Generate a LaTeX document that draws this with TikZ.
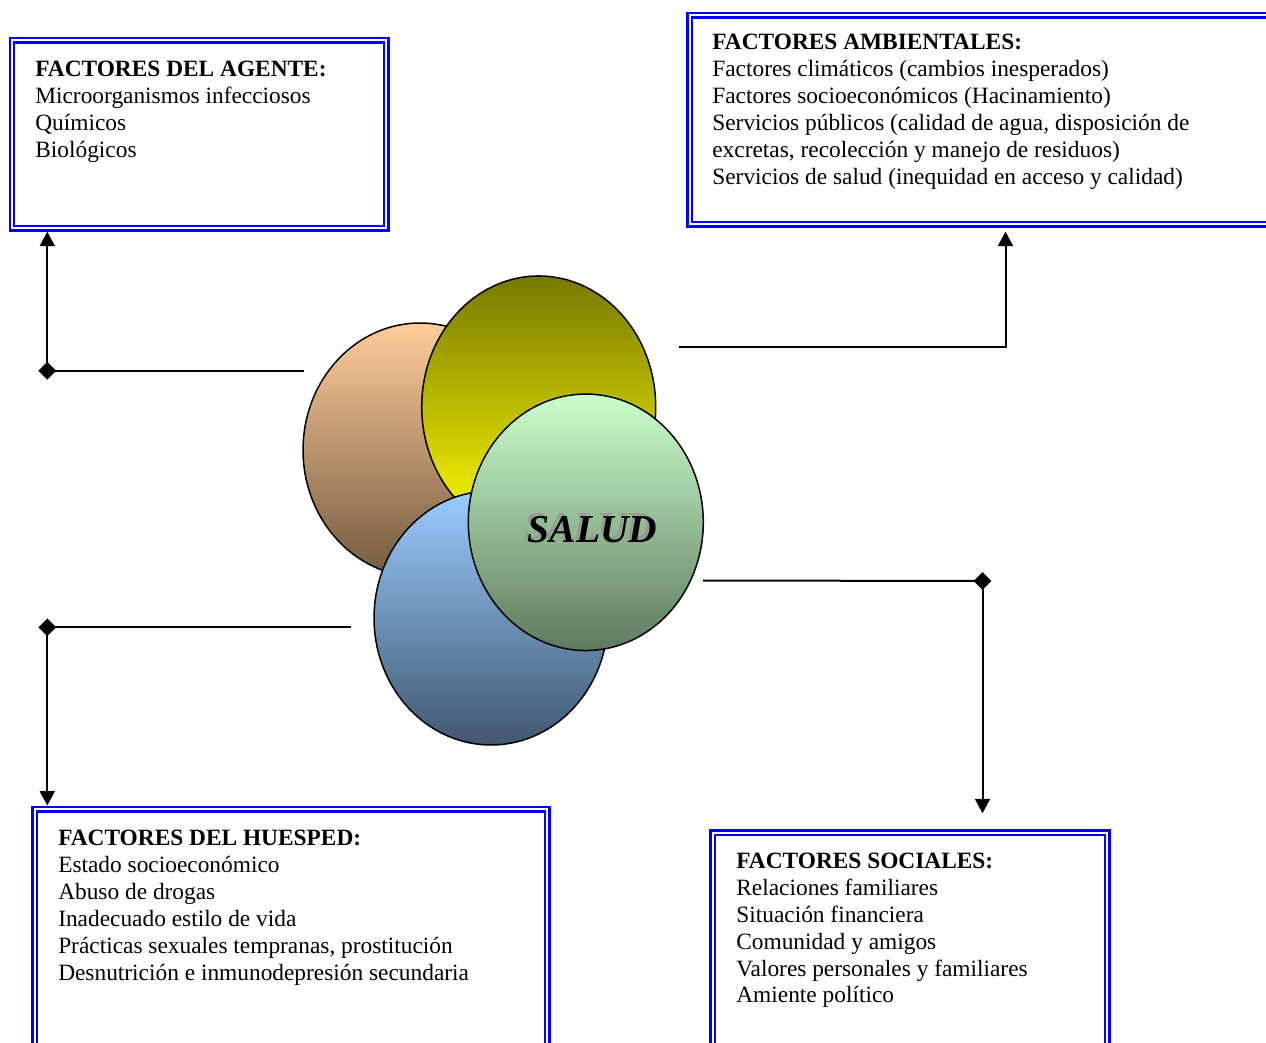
\documentclass[tikz,border=0pt]{standalone}
\usepackage{fontspec}
\setmainfont{Liberation Serif}
\usetikzlibrary{arrows.meta,shapes.geometric}
\definecolor{tanTop}{HTML}{FFCC99}
\definecolor{tanBot}{HTML}{735A40}
\definecolor{oliveTop}{HTML}{787800}
\definecolor{oliveBot}{HTML}{FFFF00}
\definecolor{blueTop}{HTML}{99CCFF}
\definecolor{blueBot}{HTML}{425870}
\definecolor{greenTop}{HTML}{CCFFCC}
\definecolor{greenBot}{HTML}{5E7A5E}
\definecolor{frameblue}{HTML}{0000FF}
\begin{document}
\begin{tikzpicture}[x=0.02cm,y=-0.02cm,
  box/.style={rectangle, draw=frameblue, line width=0.05cm, double=white, double distance=0.04cm, inner sep=0, outer sep=0.07cm, anchor=north west},
  txt/.style={anchor=north west, inner sep=0, align=left, font=\fontsize{13.3pt}{15.36pt}\selectfont},
  blob/.style={ellipse, draw=black, line width=0.03cm, inner sep=0},
  conn/.style={draw=black, line width=0.04cm},
  arr/.style={conn, -{Triangle[width=0.3cm,length=0.29cm]}},
  marker/.style={diamond, fill=black, inner sep=0, minimum width=0.36cm, minimum height=0.36cm},
  salud/.style={font=\fontsize{22.5pt}{26pt}\selectfont\bfseries\itshape, inner sep=0, anchor=base}
]
\useasboundingbox (0,0) rectangle (1266,1043);
\clip (0,0) rectangle (1266,1043);
\fill[white] (0,0) rectangle (1266,1043);

% boxes
\node[box, minimum width=7.49cm, minimum height=3.76cm] (agente) at (8.5,36.7) {};
\node[box, minimum width=11.71cm, minimum height=4.186cm] (amb) at (686,11.7) {};
\node[box, minimum width=10.252cm, minimum height=5.02cm] (hue) at (31.4,805.5) {};
\node[box, minimum width=7.894cm, minimum height=4.544cm] (soc) at (709.3,829.3) {};

\node[txt] (agentetxt) at (35,55.7) {\rule{0pt}{0.4cm}\textbf{FACTORES DEL AGENTE:}\\
Microorganismos infecciosos\\
Químicos\\
Biológicos};
\node[txt] (ambtxt) at (712,29) {\rule{0pt}{0.4cm}\textbf{FACTORES AMBIENTALES:}\\
Factores climáticos (cambios inesperados)\\
Factores socioeconómicos (Hacinamiento)\\
Servicios públicos (calidad de agua, disposición de\\
excretas, recolección y manejo de residuos)\\
Servicios de salud (inequidad en acceso y calidad)};
\node[txt] (huetxt) at (57.9,825.5) {\rule{0pt}{0.4cm}\textbf{FACTORES DEL HUESPED:}\\
Estado socioeconómico\\
Abuso de drogas\\
Inadecuado estilo de vida\\
Prácticas sexuales tempranas, prostitución\\
Desnutrición e inmunodepresión secundaria};
\node[txt] (soctxt) at (736,847.7) {\rule{0pt}{0.4cm}\textbf{FACTORES SOCIALES:}\\
Relaciones familiares\\
Situación financiera\\
Comunidad y amigos\\
Valores personales y familiares\\
Amiente político};

% circles
\node[blob, minimum width=4.68cm, minimum height=5.08cm, top color=tanTop, bottom color=tanBot] (ctan) at (420,450) {};
\node[blob, minimum width=4.68cm, minimum height=5.23cm, top color=oliveTop, bottom color=oliveBot] (colive) at (538.7,406.7) {};
\node[blob, minimum width=4.68cm, minimum height=5.08cm, top color=blueTop, bottom color=blueBot] (cblue) at (491,618) {};
\node[blob, minimum width=4.70cm, minimum height=5.13cm, top color=greenTop, bottom color=greenBot] (cgreen) at (585.8,522.3) {};

\node[salud] (saludtxt) at (592.5,542) {\makebox[0pt][l]{\hspace{-0.06cm}\raisebox{0.06cm}{\color{black!40}SALUD}}SALUD};

% connectors
\coordinate (e1) at (304,370.7);
\node[marker] (k1) at (47.3,370.7) {};
\draw[conn] (e1) -- (k1.center);
\draw[arr] (k1.center) -- (k1 |- agente.south);

\coordinate (e2) at (678.5,346.7);
\coordinate (t2) at (1005.5,346.7);
\draw[arr, shorten >=0.074cm] (e2) -- (t2) -- (t2 |- amb.south);

\coordinate (e3) at (351,627.3);
\node[marker] (k3) at (47.3,627.3) {};
\draw[conn] (e3) -- (k3.center);
\draw[arr] (k3.center) -- (k3 |- hue.north);

\coordinate (e4) at (703,580.5);
\node[marker] (k4) at (982.5,581) {};
\draw[conn] (e4) -- (k4.center);
\draw[arr, shorten >=0.32cm] (k4.center) -- (k4 |- soc.north);
\end{tikzpicture}
\end{document}
